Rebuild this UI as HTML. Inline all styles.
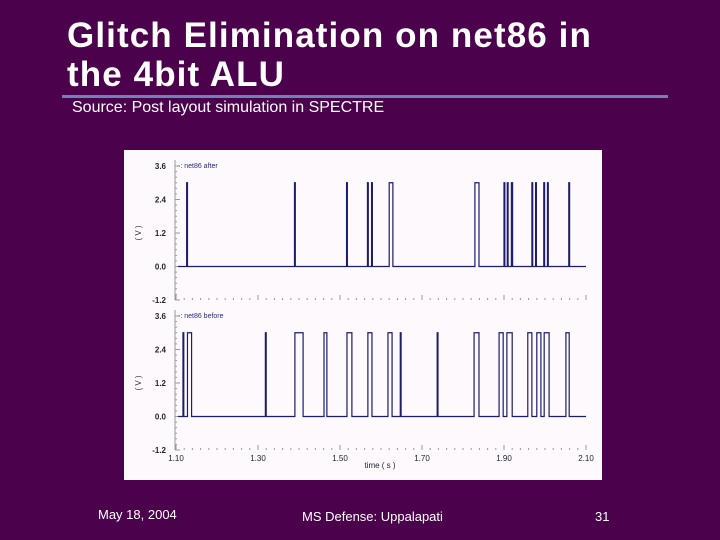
<!DOCTYPE html>
<html><head><meta charset="utf-8"><style>
html,body{margin:0;padding:0;}
body{width:720px;height:540px;background:#4b014b;position:relative;overflow:hidden;font-family:"Liberation Sans",sans-serif;}
.t{position:absolute;color:#fff;}
</style></head><body>
<div class="t" style="left:67px;top:16px;font-size:35px;font-weight:bold;line-height:39px;letter-spacing:1.1px;">Glitch Elimination on net86 in<br>the 4bit ALU</div>
<div style="position:absolute;left:62px;top:95px;width:606px;height:3px;background:#6d83b5;"></div>
<div class="t" style="left:72px;top:99px;font-size:16px;">Source: Post layout simulation in SPECTRE</div>
<svg style="position:absolute;left:0;top:0" width="720" height="540" font-family="Liberation Sans, sans-serif">
<rect x="124" y="150" width="478" height="330" fill="#fdf9fd"/>
<g id="g"></g>
</svg>
<div class="t" style="left:98px;top:507px;font-size:13px;">May 18, 2004</div>
<div class="t" style="left:302px;top:509px;font-size:13px;">MS Defense: Uppalapati</div>
<div class="t" style="left:595px;top:509px;font-size:13px;">31</div>
<script>
const xTicks=[1.10,1.30,1.50,1.70,1.90,2.10];
const xTickLabels=["1.10","1.30","1.50","1.70","1.90","2.10"];
const yTicks=[3.6,2.4,1.2,0.0,-1.2];
const yTickLabels=["3.6","2.4","1.2","0.0","-1.2"];
const highLevel=3.0;
const afterPulses=[[1.126,1.128],[1.389,1.391],[1.516,1.518],[1.567,1.569],[1.577,1.579],[1.620,1.629],[1.829,1.839],[1.900,1.902],[1.908,1.910],[1.918,1.921],[1.968,1.970],[1.977,1.979],[1.997,1.999],[2.006,2.008],[2.058,2.060]];
const beforePulses=[[1.117,1.119],[1.128,1.138],[1.318,1.320],[1.390,1.410],[1.461,1.468],[1.517,1.529],[1.568,1.578],[1.617,1.627],[1.647,1.649],[1.737,1.739],[1.827,1.839],[1.888,1.898],[1.907,1.920],[1.958,1.968],[1.980,1.990],[1.998,2.010],[2.051,2.059]];
const NS="http://www.w3.org/2000/svg";
const g=document.getElementById('g');
function mk(t,a){const e=document.createElementNS(NS,t);for(const k in a)e.setAttribute(k,a[k]);g.appendChild(e);return e;}
const X0=176,X1=586;
function xs(t){return X0+(t-1.10)/(2.10-1.10)*(X1-X0);}
function panel(top,bottom,pulses,label,name,showX){
  const ys=v=>bottom+(v-(-1.2))/(3.6-(-1.2))*(top-bottom);
  let ax=mk('line',{x1:175,y1:top-6,x2:175,y2:bottom,stroke:'#999','stroke-width':1});
  
  
  for(let i=0;i<=24;i++){const y=ys(-1.2+i*0.2);mk('line',{x1:175,y1:y,x2:i%6==0?180:177,y2:y,stroke:'#999','stroke-width':1});}
  yTicks.forEach((v,i)=>{const t=mk('text',{x:166,y:ys(v)+3,'font-size':8,'text-anchor':'end',fill:'#223','font-weight':'bold'});t.textContent=yTickLabels[i];
    
    });
  for(let i=0;i<=50;i++){const x=xs(1.10+i*0.02);mk('line',{x1:x,y1:bottom,x2:x,y2:bottom-(i%10==0?5:2),stroke:'#999','stroke-width':1});}
  const yt=mk('text',{x:0,y:0,'font-size':8,fill:'#333',transform:`translate(141,${ys(1.2)}) rotate(-90)`,'text-anchor':'middle'});yt.textContent='( V )';
  
  
  const lg=mk('text',{x:178,y:top+2,'font-size':7,fill:'#2a2a80'});lg.textContent='-: net86 '+label;
  
  
  const y0=ys(0),yh=ys(highLevel);
  let d=`M${xs(1.105)},${y0}`;
  pulses.forEach(p=>{d+=` L${xs(p[0])},${y0} L${xs(p[0])},${yh} L${xs(p[1])},${yh} L${xs(p[1])},${y0}`;});
  d+=` L${X1},${y0}`;
  const pa=mk('path',{d:d,fill:'none',stroke:'#1c1c6c','stroke-width':1.2});
  
  
  if(showX){
    xTicks.forEach((v,i)=>{const t=mk('text',{x:xs(v),y:bottom+11,'font-size':8,'text-anchor':'middle',fill:'#223'});t.textContent=xTickLabels[i];
      
      });
    const xt=mk('text',{x:380,y:bottom+18,'font-size':8,'text-anchor':'middle',fill:'#223'});xt.textContent='time ( s )';
    
    
  }
}
panel(166,300,afterPulses,'after','after-plot',false);
panel(316,450,beforePulses,'before','before-plot',true);
</script>
</body></html>
